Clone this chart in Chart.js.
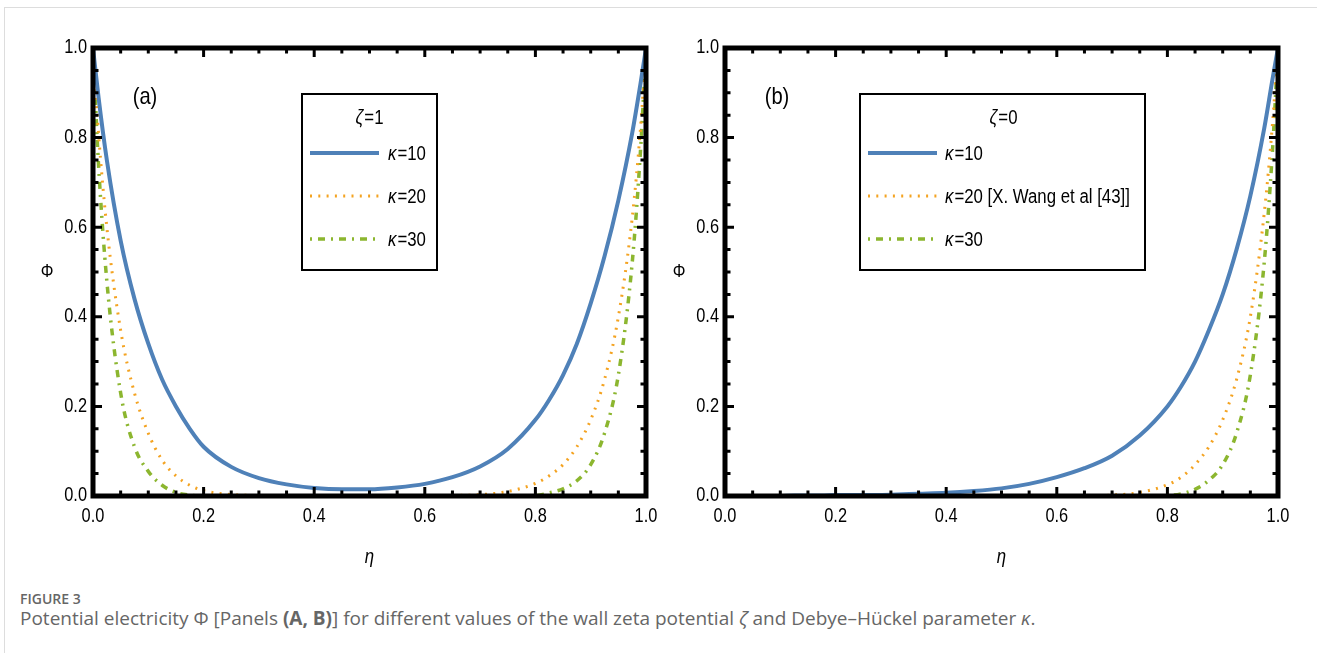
<!DOCTYPE html>
<html>
<head>
<meta charset="utf-8">
<script src="https://cdn.jsdelivr.net/npm/chart.js@4.4.0/dist/chart.umd.min.js"></script>
<style>
  body { margin: 0; background: #fff; width: 1317px; height: 653px; overflow: hidden; position: relative; }
  #border { position: absolute; left: 4px; top: 7px; width: 1400px; height: 700px; border-top: 1px solid #ddd; border-left: 1px solid #ddd; }
  canvas { position: absolute; top: 0; }
  .cap { position: absolute; left: 20px; font-family: "Open Sans", "Noto Sans", sans-serif; color: #666; white-space: nowrap; line-height: 1; }
  #figno { top: 592px; font-size: 14px; font-weight: 600; }
  #figtxt { top: 609px; font-size: 19px; }
</style>
</head>
<body>
<div id="border"></div>
<canvas id="chartA" width="660" height="580" style="left:0"></canvas>
<canvas id="chartB" width="660" height="580" style="left:632px"></canvas>
<div class="cap" id="figno">FIGURE 3</div>
<div class="cap" id="figtxt">Potential electricity &Phi; [Panels <b>(A, B)</b>] for different values of the wall zeta potential <i>&zeta;</i> and Debye&ndash;H&uuml;ckel parameter <i>&kappa;</i>.</div>
<script>
const eta = [0, 0.01, 0.025, 0.05, 0.075, 0.1, 0.125, 0.15, 0.175, 0.2, 0.25, 0.3, 0.35, 0.4, 0.45, 0.5,
  0.55, 0.6, 0.65, 0.7, 0.75, 0.8, 0.825, 0.85, 0.875, 0.9, 0.925, 0.95, 0.975, 0.99, 1];

// panel (a): zeta = 1
const phiA10 = [1, 0.89, 0.75, 0.57, 0.44, 0.34, 0.26, 0.2, 0.15, 0.11, 0.065, 0.04, 0.026, 0.018, 0.015, 0.015,
  0.019, 0.027, 0.042, 0.066, 0.105, 0.17, 0.215, 0.27, 0.34, 0.43, 0.535, 0.66, 0.81, 0.92, 1];
const phiA20 = [1, 0.81, 0.6, 0.37, 0.23, 0.14, 0.08, 0.045, 0.024, 0.012, 0.003, 0.001, 0, 0, 0, 0,
  0, 0, 0.001, 0.003, 0.01, 0.028, 0.045, 0.07, 0.11, 0.17, 0.26, 0.4, 0.62, 0.82, 1];
const phiA30 = [1, 0.74, 0.48, 0.23, 0.11, 0.055, 0.024, 0.008, 0.002, 0, 0, 0, 0, 0, 0, 0,
  0, 0, 0, 0, 0, 0.001, 0.007, 0.016, 0.034, 0.07, 0.14, 0.27, 0.52, 0.77, 1];

// panel (b): zeta = 0
const phiB10 = [0, 0, 0, 0, 0, 0, 0.001, 0.001, 0.001, 0.002, 0.002, 0.003, 0.005, 0.007, 0.011, 0.017,
  0.027, 0.042, 0.062, 0.09, 0.135, 0.2, 0.245, 0.3, 0.37, 0.45, 0.55, 0.67, 0.82, 0.93, 1];
const phiB20 = [0, 0, 0, 0, 0, 0, 0, 0, 0, 0, 0, 0, 0, 0, 0, 0,
  0, 0, 0, 0.002, 0.008, 0.025, 0.042, 0.07, 0.11, 0.17, 0.26, 0.4, 0.63, 0.83, 1];
const phiB30 = [0, 0, 0, 0, 0, 0, 0, 0, 0, 0, 0, 0, 0, 0, 0, 0,
  0, 0, 0, 0, 0, 0.001, 0.005, 0.015, 0.035, 0.07, 0.14, 0.27, 0.52, 0.77, 1];

const tickValues = [0, 0.2, 0.4, 0.6, 0.8, 1];
const xTickLabels = ["0.0", "0.2", "0.4", "0.6", "0.8", "1.0"];
const yTickLabels = ["0.0", "0.2", "0.4", "0.6", "0.8", "1.0"];
const labelsA = ["κ=10", "κ=20", "κ=30"];
const labelsB = ["κ=10", "κ=20 [X. Wang et al [43]]", "κ=30"];

const BLUE = "#4f81b8", ORANGE = "#f4a321", GREEN = "#8cb62f";
const FONT = '"Liberation Sans", Arial, sans-serif';
const SQUEEZE = 0.84;  // Mathematica labels look like a narrow Arial
const styles = [
  { color: BLUE, width: 4, dash: [] },
  { color: ORANGE, width: 3, dash: [2, 6.3] },
  { color: GREEN, width: 3.5, dash: [2, 6, 7, 6] }
];

function pts(ys) {
  return eta.map((e, i) => ({ x: e, y: ys[i] }));
}

// condensed text: squeezes horizontally around the anchor
function narrowText(ctx, text, x, y, font, align, sq) {
  ctx.save();
  ctx.font = font;
  ctx.textBaseline = "middle";
  ctx.textAlign = align;
  ctx.translate(x, y);
  ctx.scale(sq || SQUEEZE, 1);
  ctx.fillText(text, 0, 0);
  ctx.restore();
}

// leading Greek letter in italics, rest upright
function drawGreek(ctx, text, x, y, size, align, sq) {
  const g = text.charAt(0), rest = text.slice(1);
  const s = sq || SQUEEZE;
  ctx.font = `italic ${size}px ${FONT}`;
  const w1 = ctx.measureText(g).width * s;
  ctx.font = `${size}px ${FONT}`;
  const w2 = ctx.measureText(rest).width * s;
  const sx = align === "center" ? x - (w1 + w2) / 2 : x;
  narrowText(ctx, g, sx, y, `italic ${size}px ${FONT}`, "left", s);
  narrowText(ctx, rest, sx + w1 + 1, y, `${size}px ${FONT}`, "left", s);
}

const framePlugin = {
  id: "frame",
  afterDraw(chart, args, o) {
    const { ctx, chartArea: a, scales: { x, y } } = chart;
    ctx.save();
    ctx.strokeStyle = "#000";
    ctx.fillStyle = "#000";
    ctx.lineWidth = 3;
    ctx.lineCap = "butt";
    for (let k = 1; k < 20; k++) {
      const v = k * 0.05;
      const len = k % 4 === 0 ? 9 : 5.5;
      const px = x.getPixelForValue(v), py = y.getPixelForValue(v);
      ctx.beginPath();
      ctx.moveTo(px, a.bottom); ctx.lineTo(px, a.bottom - len);
      ctx.moveTo(px, a.top); ctx.lineTo(px, a.top + len);
      ctx.moveTo(a.left, py); ctx.lineTo(a.left + len, py);
      ctx.moveTo(a.right, py); ctx.lineTo(a.right - len, py);
      ctx.stroke();
    }
    ctx.lineWidth = 5;
    ctx.strokeRect(a.left, a.top, a.right - a.left, a.bottom - a.top);

    // tick labels
    const tf = `19.5px ${FONT}`;
    tickValues.forEach((v, i) => {
      narrowText(ctx, xTickLabels[i], x.getPixelForValue(v), a.bottom + 21, tf, "center");
      narrowText(ctx, yTickLabels[i], a.left - 6, y.getPixelForValue(v), tf, "right");
    });

    // axis titles and panel tag
    narrowText(ctx, "Φ", a.left - 46, (a.top + a.bottom) / 2, `19px ${FONT}`, "center");
    narrowText(ctx, "η", (a.left + a.right) / 2, 557, `italic 20px ${FONT}`, "center");
    narrowText(ctx, o.tag, a.left + 52, 97, `24px ${FONT}`, "center");

    // legend box
    const L = o.legend;
    ctx.lineWidth = 2;
    ctx.strokeRect(L.x0, L.y0, L.x1 - L.x0, L.y1 - L.y0);
    drawGreek(ctx, o.title, L.titleX, 118, 20, "center");
    const rows = [153, 196, 239];
    chart.data.datasets.forEach((ds, i) => {
      const s = styles[i];
      ctx.strokeStyle = s.color;
      ctx.lineWidth = s.width;
      ctx.setLineDash(s.dash);
      ctx.beginPath();
      ctx.moveTo(L.lineX0, rows[i]);
      ctx.lineTo(L.lineX1, rows[i]);
      ctx.stroke();
      ctx.setLineDash([]);
      drawGreek(ctx, ds.label, L.textX, rows[i] + 1, 20, "left");
    });
    ctx.restore();
  }
};

function makeChart(id, series, names, tag, title, legend) {
  return new Chart(document.getElementById(id), {
    type: "line",
    data: {
      datasets: series.map((ys, i) => ({
        label: names[i],
        data: pts(ys),
        borderColor: styles[i].color,
        borderWidth: styles[i].width,
        borderDash: styles[i].dash,
        pointRadius: 0,
        cubicInterpolationMode: "monotone",
        fill: false
      }))
    },
    options: {
      responsive: false,
      animation: false,
      devicePixelRatio: 1,
      layout: { padding: { left: 0, top: 48, right: 14, bottom: 0 } },
      plugins: { legend: { display: false }, tooltip: { enabled: false }, frame: { tag, title, legend } },
      scales: {
        x: {
          type: "linear", min: 0, max: 1,
          afterFit: s => { s.height = 84; },
          grid: { display: false, drawTicks: false },
          border: { display: false },
          ticks: { display: false, stepSize: 0.2 }
        },
        y: {
          type: "linear", min: 0, max: 1,
          afterFit: s => { s.width = 93; },
          grid: { display: false, drawTicks: false },
          border: { display: false },
          ticks: { display: false, stepSize: 0.2 }
        }
      }
    },
    plugins: [framePlugin]
  });
}

makeChart("chartA", [phiA10, phiA20, phiA30], labelsA, "(a)", "ζ=1",
  { x0: 302, y0: 94, x1: 437, y1: 270, titleX: 369, lineX0: 310, lineX1: 379, textX: 388 });
makeChart("chartB", [phiB10, phiB20, phiB30], labelsB, "(b)", "ζ=0",
  { x0: 228, y0: 94, x1: 513, y1: 270, titleX: 371, lineX0: 236, lineX1: 305, textX: 313 });
</script>
</body>
</html>
